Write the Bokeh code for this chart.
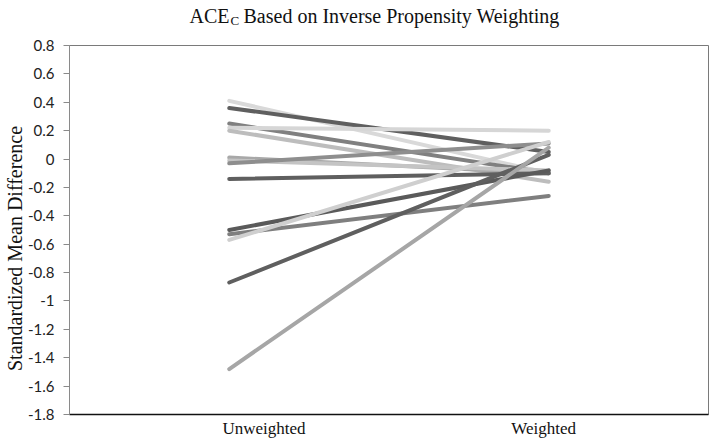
import math
from bokeh.plotting import figure
from bokeh.layouts import column, row
from bokeh.models import Range1d, FixedTicker, CustomJSTickFormatter, Label
from bokeh.embed import file_html
from bokeh.resources import INLINE

# ---- data ----
categories = ["Unweighted", "Weighted"]
unweighted = [0.41, 0.36, 0.25, 0.22, 0.20, 0.01, -0.01, -0.03, -0.14, -0.50, -0.53, -0.57, -0.87, -1.48]
weighted = [-0.10, 0.05, -0.10, 0.20, -0.16, -0.10, -0.08, 0.11, -0.10, -0.08, -0.26, 0.12, 0.03, 0.08]
line_colors = ["#d9d9d9", "#5f5f5f", "#808080", "#d6d6d6", "#bdbdbd", "#a8a8a8", "#c4c4c4",
               "#8e8e8e", "#5f5f5f", "#5a5a5a", "#7f7f7f", "#cfcfcf", "#5f5f5f", "#a6a6a6"]
y_ticks = [0.8, 0.6, 0.4, 0.2, 0.0, -0.2, -0.4, -0.6, -0.8, -1.0, -1.2, -1.4, -1.6, -1.8]
title_main = "ACE"
title_sub = "C"
title_rest = "Based on Inverse Propensity Weighting"
y_label = "Standardized Mean Difference"

SERIF = "Liberation Serif"
TXT = "#111111"


def blank_fig(w, h):
    f = figure(width=w, height=h, output_backend="svg", toolbar_location=None,
               x_range=Range1d(0, 1), y_range=Range1d(0, 1),
               min_border_left=0, min_border_right=0, min_border_top=0, min_border_bottom=0)
    f.axis.visible = False
    f.xgrid.visible = False
    f.ygrid.visible = False
    f.outline_line_color = None
    f.background_fill_color = "white"
    f.border_fill_color = "white"
    return f


# ---- title strip ----
TH = 35
tfig = blank_fig(714, TH)
tfig.add_layout(Label(x=229, y=TH - 15, x_units="screen", y_units="screen", text=title_main,
                      text_align="right", text_baseline="alphabetic", text_font=SERIF,
                      text_font_size="20px", text_color=TXT))
tfig.add_layout(Label(x=230, y=TH - 20, x_units="screen", y_units="screen", text=title_sub,
                      text_align="left", text_baseline="alphabetic", text_font=SERIF,
                      text_font_size="13px", text_color=TXT))
tfig.add_layout(Label(x=243, y=TH - 15, x_units="screen", y_units="screen", text=title_rest,
                      text_align="left", text_baseline="alphabetic", text_font=SERIF,
                      text_font_size="20px", text_color=TXT))

# ---- y-label strip ----
PH = 442 - TH
LW = 24
lfig = blank_fig(LW, PH)
lfig.add_layout(Label(x=14, y=PH - (249 - TH) - 27, x_units="screen", y_units="screen", text=y_label,
                      angle=math.pi / 2, text_align="center", text_baseline="middle",
                      text_font=SERIF, text_font_size="20px", text_color=TXT))

# ---- main plot ----
p = figure(width=714 - LW, height=PH, output_backend="svg", toolbar_location=None,
           x_range=Range1d(-0.5, 1.5), y_range=Range1d(-1.8, 0.8),
           min_border_left=68 - LW, min_border_right=6, min_border_top=45 - TH, min_border_bottom=28)
p.background_fill_color = "white"
p.border_fill_color = "white"
p.xgrid.visible = False
p.ygrid.visible = False
p.outline_line_color = "#7a7a7a"
p.outline_line_width = 1

xs_pos = list(range(len(categories)))
for u, w, c in zip(unweighted, weighted, line_colors):
    p.line(x=xs_pos, y=[u, w], line_color=c, line_width=4, line_cap="round")

ya = p.yaxis[0]
ya.ticker = FixedTicker(ticks=y_ticks)
ya.formatter = CustomJSTickFormatter(code="return (Math.round(tick*10)/10).toString();")
ya.major_label_text_font = "Lato"
ya.major_label_text_font_size = "15px"
ya.major_label_text_color = "#222222"
ya.axis_line_color = "#8a8a8a"
ya.major_tick_line_color = "#8a8a8a"
ya.major_tick_out = 6
ya.major_tick_in = 0
ya.minor_tick_line_color = None
ya.major_label_standoff = 9

xa = p.xaxis[0]
label_pos = [0.109, 0.984]
xa.ticker = FixedTicker(ticks=label_pos)
xa.major_label_overrides = {label_pos[i]: categories[i] for i in range(len(categories))}
xa.major_label_text_font = SERIF
xa.major_label_text_font_size = "17px"
xa.major_label_text_color = TXT
xa.axis_line_color = "#111111"
xa.axis_line_width = 1.5
xa.major_tick_line_color = None
xa.major_tick_out = 0
xa.major_tick_in = 0
xa.minor_tick_line_color = None
xa.major_label_standoff = 4

layout = column(tfig, row(lfig, p, spacing=0), spacing=0)
open("out.html", "w").write(file_html(layout, INLINE))
